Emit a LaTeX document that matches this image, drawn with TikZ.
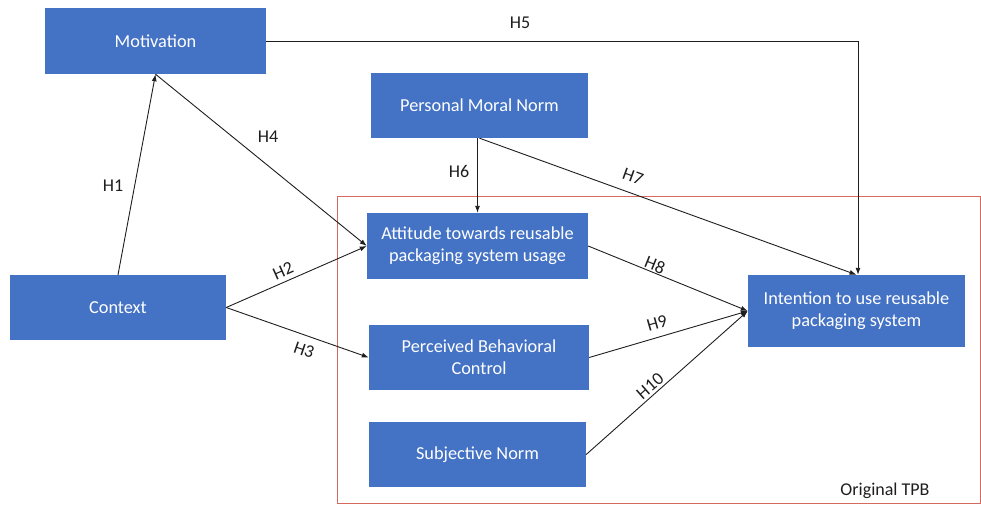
\documentclass[tikz,border=0pt]{standalone}
\usepackage{fontspec}
\setmainfont{Carlito}
\usetikzlibrary{arrows.meta}
\definecolor{boxblue}{HTML}{4472C4}
\definecolor{tpbred}{RGB}{215,105,95}
\definecolor{ink}{HTML}{1E1E1E}
\begin{document}
\begin{tikzpicture}[x=1pt,y=-1pt,
  box/.style={fill=boxblue, text=white, align=center, inner sep=0pt,
    font=\fontsize{18.3}{22}\selectfont},
  conn/.style={draw=ink, line width=0.9pt, -{Latex[length=7pt,width=5pt]}},
  lbl/.style={text=ink, inner sep=0pt, font=\fontsize{18}{20}\selectfont}]
\useasboundingbox (0,0) rectangle (981,505);
% red frame
\draw[tpbred, line width=0.8pt] (337,196) rectangle (980,503);
% boxes
\node[box, minimum width=221pt, minimum height=66pt] (mot) at (155.5,41) {Motivation};
\node[box, minimum width=217pt, minimum height=65pt] (pmn) at (479.5,105.5) {Personal Moral Norm};
\node[box, minimum width=216pt, minimum height=65pt] (ctx) at (118,307.5) {Context};
\node[box, minimum width=221pt, minimum height=66pt] (att) at (477.5,246) {Attitude towards reusable\\packaging system usage};
\node[box, minimum width=220pt, minimum height=65pt] (pbc) at (479,357.5) {Perceived Behavioral\\Control};
\node[box, minimum width=217pt, minimum height=65pt] (sn) at (477.5,454.5) {Subjective Norm};
\node[box, minimum width=217pt, minimum height=72pt] (int) at (856.5,311) {Intention to use reusable\\packaging system};
\coordinate (corner) at (858,43);
% connectors
\draw[conn] (ctx.north) -- (mot.south);
\draw[conn] (mot.south) -- (att.west);
\draw[conn] (ctx.east) -- (att.west);
\draw[conn] (ctx.east) -- (pbc.west);
\draw[conn] (mot.east) -- (mot.east -| corner) -- (corner) -- (corner |- int.north);
\draw[conn] (att.north |- pmn.south) -- (att.north);
\draw[conn] (pmn.south) -- (int.north);
\draw[conn] (att.east) -- (int.west);
\draw[conn] (pbc.east) -- (int.west);
\draw[conn] (sn.east) -- (int.west);
% labels
\node[lbl] (h1) at (113,186) {H1};
\node[lbl] (h2) at (283,271) [rotate=24] {H2};
\node[lbl] (h3) at (304,350) [rotate=-19] {H3};
\node[lbl] (h4) at (268,137) {H4};
\node[lbl] (h5) at (520,23) {H5};
\node[lbl] (h6) at (459,171) {H6};
\node[lbl] (h7) at (633,177) [rotate=-20] {H7};
\node[lbl] (h8) at (655,265) [rotate=-22] {H8};
\node[lbl] (h9) at (657,323) [rotate=16] {H9};
\node[lbl] (h10) at (650,386) [rotate=41] {H10};
\node[lbl] (tpb) at (885,491) {Original TPB};
\end{tikzpicture}
\end{document}
